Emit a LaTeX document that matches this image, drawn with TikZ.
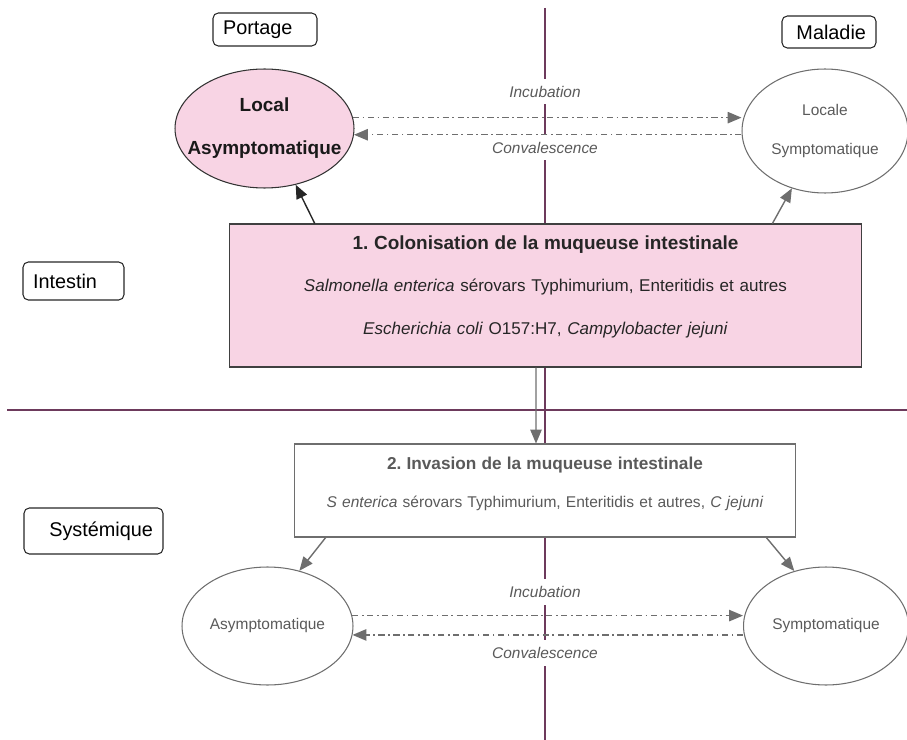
\documentclass[tikz,border=0pt]{standalone}
\usepackage{fontspec}
\setmainfont{Liberation Sans}
\usepackage{tikz}
\usetikzlibrary{shapes.geometric, arrows, calc}

\definecolor{axe}{HTML}{6D3A5C}
\definecolor{rose}{HTML}{F8D4E4}
\definecolor{gristxt}{HTML}{5A5A5A}
\definecolor{grisfl}{HTML}{6E6E6E}
\frenchspacing

\begin{document}
\begin{tikzpicture}[x=0.02cm, y=-0.02cm, >=triangle 45, semithick,
    zone/.style={draw=black!85, rounded corners=3pt, inner xsep=0.2cm, inner ysep=0pt, font=\fontsize{11.3}{13}\selectfont},
    etat/.style={ellipse, draw=grisfl, inner xsep=-0.8cm, inner ysep=0pt, text=gristxt, align=center, font=\fontsize{8.8}{22.1}\selectfont},
    phase/.style={text=gristxt, fill=white, inner sep=4pt, font=\fontsize{8.8}{10}\itshape},
    fleche/.style={->, grisfl, line width=0.8pt},
    trajet/.style={->, grisfl, line width=0.8pt, dash pattern=on 3.5pt off 2pt on 1pt off 2pt}]
    \useasboundingbox (0,0) rectangle (907,740);
    % axes
    \draw[axe, line width=1.6pt] (545,8) -- (545,740);
    \draw[axe, line width=1.6pt] (7,410) -- (907,410);
    % zones
    \node[zone, text width=1.68cm, align=left, minimum height=0.66cm] (portage) at (265,29.5) {Portage};
    \node[zone, text width=1.48cm, align=right, minimum height=0.64cm] (maladie) at (829,32) {Maladie};
    \node[zone, text width=1.62cm, align=left, minimum height=0.76cm] (intestin) at (73.5,281) {Intestin};
    \node[zone, text width=2.38cm, align=right, minimum height=0.92cm] (systemique) at (93.5,531) {Systémique};
    % etats
    \node[etat, fill=rose, draw=black!80, text=black!90, minimum width=3.58cm, minimum height=2.38cm,
          font=\bfseries\fontsize{10.8}{24.4}\selectfont] (locA) at (264.5,128.5) {Local\\Asymptomatique};
    \node[etat, minimum width=3.32cm, minimum height=2.48cm] (locS) at (825,131) {Locale\\Symptomatique};
    \node[etat, minimum width=3.42cm, minimum height=2.36cm] (asy) at (267.5,626) {Asymptomatique};
    \node[etat, minimum width=3.3cm, minimum height=2.36cm] (sym) at (826,626) {Symptomatique};
    % etapes
    \node[draw=black!75, fill=rose, text=black!85, inner sep=0pt, text width=12.66cm, align=center,
          text height=0.5cm, text depth=2.36cm, font=\fontsize{9.7}{24.4}\selectfont] (col) at (545.5,295.5)
          {{\bfseries\fontsize{10.8}{24.4}\selectfont 1. Colonisation de la muqueuse intestinale}\\
           \textit{Salmonella enterica} sérovars Typhimurium, Enteritidis et autres\\
           \textit{Escherichia coli} O157:H7, \textit{Campylobacter jejuni}};
    \node[draw=grisfl, fill=white, text=gristxt, inner sep=0pt, text width=10.04cm, align=center,
          text height=0.5cm, text depth=1.36cm, font=\fontsize{8.85}{22.1}\selectfont] (inv) at (545,490.5)
          {{\bfseries\fontsize{9.8}{22.1}\selectfont 2. Invasion de la muqueuse intestinale}\\
           \textit{S enterica} sérovars Typhimurium, Enteritidis et autres, \textit{C jejuni}};
    % phases
    \node[phase] (inc1) at (545,91.5) {Incubation};
    \node[phase] (conv1) at (545,147.5) {Convalescence};
    \node[phase] (inc2) at (545,592) {Incubation};
    \node[phase] (conv2) at (545,653) {Convalescence};
    % fleches
    \draw[->, black!85, line width=0.8pt] ($(col.north west)!0.136!(col.north east)$) -- (locA.-61);
    \draw[fleche] ($(col.north west)!0.858!(col.north east)$) -- (locS.-120);
    \draw[fleche] ([xshift=-0.19cm]col.south) -- ([xshift=-0.18cm]inv.north);
    \draw[fleche] ($(inv.south west)!0.064!(inv.south east)$) -- (asy.60);
    \draw[fleche] ($(inv.south west)!0.94!(inv.south east)$) -- (sym.120);
    \draw[trajet] (locA.7) -- (locA.7 -| locS.west);
    \draw[trajet] (locA.-4 -| locS.west) -- (locA.-4);
    \draw[trajet] (asy.7) -- (asy.7 -| sym.west);
    \draw[trajet] (asy.-6 -| sym.west) -- (asy.-6);
\end{tikzpicture}
\end{document}
